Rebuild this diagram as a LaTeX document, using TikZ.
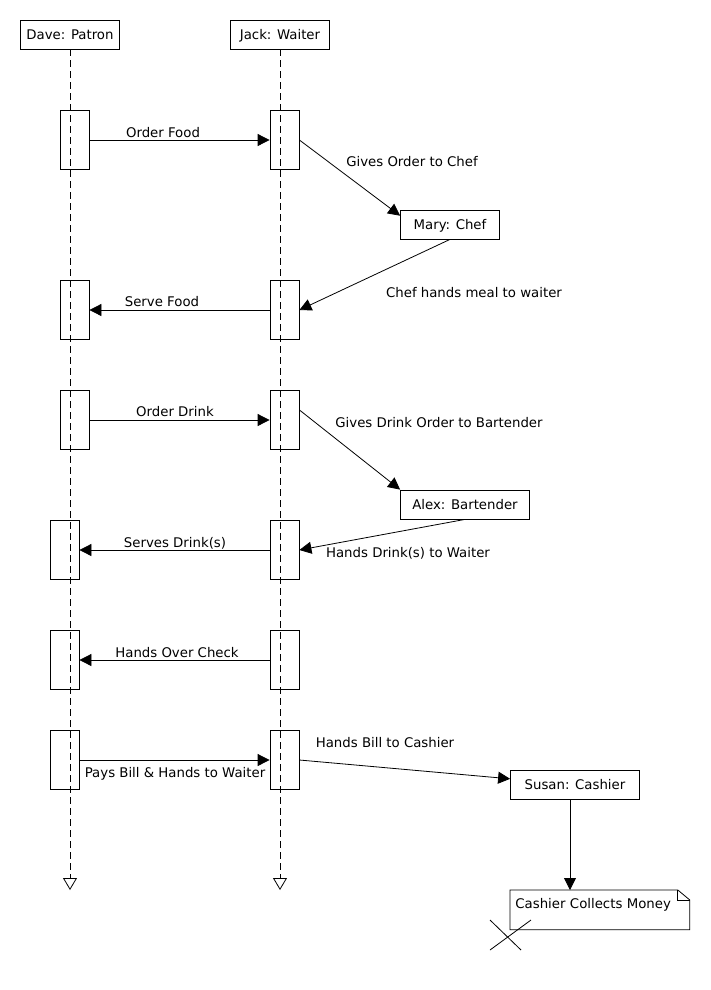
\documentclass[tikz,border=0pt]{standalone}
\usepackage{fontspec}
\setmainfont{DejaVu Sans}
\usetikzlibrary{arrows.meta}

\begin{document}
\begin{tikzpicture}[x=1pt, y=-1pt, line width=0.8pt,
  font=\fontsize{13.3}{15}\selectfont,
  obj/.style={draw, minimum height=29pt, inner sep=0pt, text height=9.5pt, text depth=0pt},
  bar/.style={draw, minimum width=29pt, minimum height=59pt, inner sep=0pt},
  lbl/.style={inner sep=0pt, text height=9.5pt, text depth=0pt},
  msg/.style={-{Triangle[length=12pt,width=12pt]}},
  life/.style={dash pattern=on 7pt off 4pt, -{Triangle[open,length=12pt,width=14pt]}},
  note/.style={anchor=north west, inner xsep=5pt, inner ysep=4pt, text width=169pt,
    align=left, text height=14pt, text depth=17pt}]
  \useasboundingbox (0,0) rectangle (710,990);
  \node[obj, minimum width=99pt] (dave) at (70, 34.5) {Dave: Patron};
  \node[obj, minimum width=99pt] (jack) at (280, 34.5) {Jack: Waiter};
  \coordinate (daveEnd) at (70, 890);
  \coordinate (jackEnd) at (280, 890);
  \draw [life] (dave) -- (daveEnd);
  \draw [life] (jack) -- (jackEnd);
  \foreach \n/\x/\y in {d1/74.5/140, d2/74.5/310, d3/74.5/420, d4/64.5/550, d5/64.5/660, d6/64.5/760,
    j1/284.5/140, j2/284.5/310, j3/284.5/420, j4/284.5/550, j5/284.5/660, j6/284.5/760}
  {
    \node[bar] (\n) at (\x, \y) {};
  }
  \node[obj, minimum width=99pt] (mary) at (450, 224.5) {Mary: Chef};
  \node[obj, minimum width=129pt] (alex) at (465, 504.5) {Alex: Bartender};
  \node[obj, minimum width=129pt] (susan) at (575, 784.5) {Susan: Cashier};
  \node[note] (note) at (510, 890) {Cashier Collects Money};
  \draw (note.south west) -- (note.north west) -- ([xshift=-12pt]note.north east)
    -- ([yshift=-10pt]note.north east) -- (note.south east) -- cycle;
  \draw ([xshift=-12pt]note.north east) -- ([xshift=-12pt,yshift=-10pt]note.north east)
    -- ([yshift=-10pt]note.north east);
  \draw [msg] (d1.east) -- (j1.west);
  \draw [msg] (j1.east) -- (mary.170);
  \draw [msg] (mary.south) -- (j2.east);
  \draw [msg] (j2.west) -- (d2.east);
  \draw [msg] (d3.east) -- (j3.west);
  \draw [msg] (j3.34) -- (alex.north west);
  \draw [msg] (alex.south) -- (j4.east);
  \draw [msg] (j4.west) -- (d4.east);
  \draw [msg] (j5.west) -- (d5.east);
  \draw [msg] (d6.east) -- (j6.west);
  \draw [msg] (j6.east) -- (susan.175);
  \draw [msg] ([xshift=-5pt]susan.south) -- ([xshift=-5pt]susan.south |- note.north);
  \node[lbl] (tOrderFood) at (163, 132.5) {Order Food};
  \node[lbl] (tGivesOrder) at (412, 162) {Gives Order to Chef};
  \node[lbl] (tHandsMeal) at (474, 292.5) {Chef hands meal to waiter};
  \node[lbl] (tServeFood) at (162, 302) {Serve Food};
  \node[lbl] (tOrderDrink) at (175, 412) {Order Drink};
  \node[lbl] (tGivesDrink) at (439, 422.5) {Gives Drink Order to Bartender};
  \node[lbl] (tHandsDrink) at (408, 552.5) {Hands Drink(s) to Waiter};
  \node[lbl] (tServesDrink) at (175, 542.5) {Serves Drink(s)};
  \node[lbl] (tCheck) at (177, 652.5) {Hands Over Check};
  \node[lbl] (tPays) at (175, 772.5) {Pays Bill \& Hands to Waiter};
  \node[lbl] (tBill) at (385, 742.5) {Hands Bill to Cashier};
  \coordinate (kill) at (505, 935);
  \draw (kill) ++(-15,-15) -- ++(31,30);
  \draw (kill) ++(-15,15) -- ++(41,-30);
\end{tikzpicture}
\end{document}
